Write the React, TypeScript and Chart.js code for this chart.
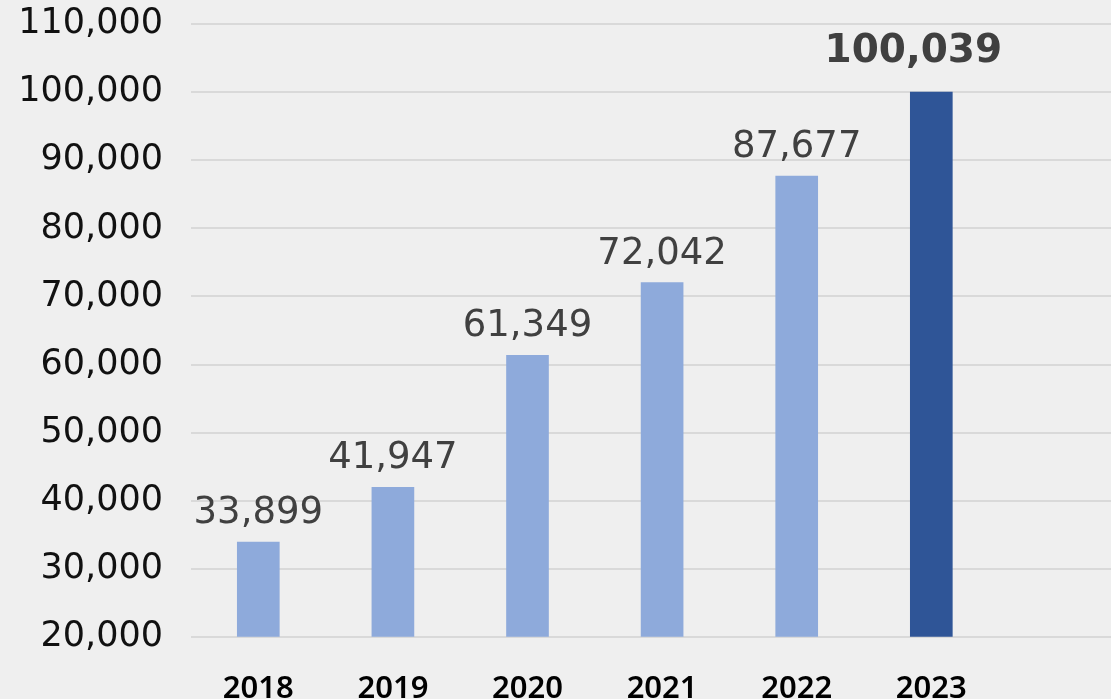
import React, { useEffect, useRef } from "react";
import { Chart, registerables } from "chart.js";

Chart.register(...registerables);

const years: number[] = [2018, 2019, 2020, 2021, 2022, 2023];
const values: number[] = [33899, 41947, 61349, 72042, 87677, 100039];
const yTicks: number[] = [20000, 30000, 40000, 50000, 60000, 70000, 80000, 90000, 100000, 110000];

const LIGHT = "#8eaadb";
const DARK = "#2f5597";
const FONT = "'DejaVu Sans', 'Noto Sans', sans-serif";
const XFONT = "'Noto Sans', 'DejaVu Sans', sans-serif";

const bgPlugin = {
  id: "bgFill",
  beforeDraw(chart: any) {
    const { ctx, width, height } = chart;
    ctx.save();
    ctx.fillStyle = "#efefef";
    ctx.fillRect(0, 0, width, height);
    ctx.restore();
  },
};

const labelPlugin = {
  id: "valueLabels",
  afterDatasetsDraw(chart: any) {
    const { ctx } = chart;
    const meta = chart.getDatasetMeta(0);
    const last = values.length - 1;
    ctx.save();
    ctx.textAlign = "center";
    ctx.textBaseline = "alphabetic";
    meta.data.forEach((bar: any, i: number) => {
      const v = values[i];
      const txt = v.toLocaleString("en-US");
      if (i === last) {
        ctx.font = `bold 39px ${FONT}`;
        ctx.fillStyle = "#404040";
        ctx.fillText(txt, bar.x - 18, bar.y - 30);
      } else {
        ctx.font = `37px ${FONT}`;
        ctx.fillStyle = "#404040";
        ctx.fillText(txt, bar.x, bar.y - 19);
      }
    });
    ctx.restore();
  },
};

export default function App() {
  const ref = useRef<HTMLCanvasElement | null>(null);

  useEffect(() => {
    if (!ref.current) return;
    const last = values.length - 1;
    const chart = new Chart(ref.current, {
      type: "bar",
      data: {
        datasets: [
          {
            data: years.map((y, i) => ({ x: y, y: values[i] })),
            backgroundColor: values.map((_, i) => (i === last ? DARK : LIGHT)),
            barThickness: 42,
            borderWidth: 0,
          },
        ],
      },
      options: {
        responsive: false,
        animation: false,
        layout: { padding: 0 },
        plugins: {
          legend: { display: false },
          tooltip: { enabled: false },
        },
        scales: {
          x: {
            type: "linear",
            offset: false,
            min: 2017.5,
            max: 2024.335,
            grid: { display: false, drawTicks: false },
            border: { display: false },
            afterBuildTicks: (scale: any) => {
              scale.ticks = years.map((y) => ({ value: y }));
            },
            afterFit: (scale: any) => {
              scale.height = 62.3;
              scale.paddingLeft = 0;
              scale.paddingRight = 0;
            },
            ticks: {
              padding: 34,
              autoSkip: false,
              maxRotation: 0,
              color: "#000000",
              font: { family: XFONT, size: 31, weight: 600 },
              callback: (v: any) => String(v),
            },
          },
          y: {
            min: yTicks[0],
            max: yTicks[yTicks.length - 1],
            grid: { color: "#d9d9d9", lineWidth: 2, drawTicks: false },
            border: { display: false },
            afterBuildTicks: (scale: any) => {
              scale.ticks = yTicks.map((v) => ({ value: v }));
            },
            afterFit: (scale: any) => {
              scale.width = 191;
              scale.paddingTop = 24.3;
              scale.paddingBottom = 0;
            },
            ticks: {
              padding: 28,
              color: "#111111",
              font: { family: FONT, size: 35 },
              callback: (v: any) => Number(v).toLocaleString("en-US"),
            },
          },
        },
      },
      plugins: [bgPlugin, labelPlugin],
    });
    return () => chart.destroy();
  }, []);

  return (
    <div style={{ position: "fixed", left: 0, top: 0, width: 1111, height: 699, overflow: "hidden" }}>
      <canvas ref={ref} width={1111} height={699} style={{ display: "block" }} />
    </div>
  );
}
